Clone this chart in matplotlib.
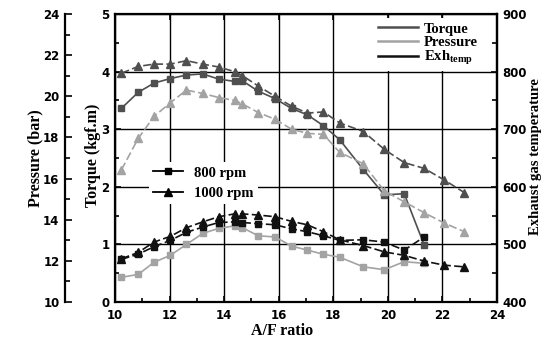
import matplotlib
matplotlib.use("Agg")
import matplotlib.pyplot as plt
from matplotlib.lines import Line2D
from matplotlib.ticker import MultipleLocator

plt.rcParams['mathtext.fontset'] = 'custom'
plt.rcParams['mathtext.rm'] = 'Liberation Serif:bold'
plt.rcParams['mathtext.bf'] = 'Liberation Serif:bold'
plt.rcParams['mathtext.it'] = 'Liberation Serif:bold'

# ---- data ----
af_800 = [10.23, 10.85, 11.43, 12.03, 12.62, 13.21, 13.80, 14.38, 14.67, 15.25,
          15.87, 16.47, 17.05, 17.64, 18.23, 19.10, 19.87, 20.60, 21.33]
af_1000 = [10.23, 10.85, 11.43, 12.03, 12.62, 13.21, 13.80, 14.38, 14.67, 15.25,
           15.87, 16.47, 17.05, 17.64, 18.23, 19.10, 19.87, 20.60, 21.33, 22.06, 22.80]

torque_800 = [3.36, 3.64, 3.80, 3.88, 3.94, 3.96, 3.87, 3.83, 3.84, 3.66,
              3.53, 3.36, 3.25, 3.06, 2.82, 2.30, 1.86, 1.88, 0.99]
torque_1000 = [3.97, 4.09, 4.13, 4.13, 4.19, 4.13, 4.08, 4.00, 3.93, 3.75,
               3.57, 3.40, 3.28, 3.30, 3.11, 2.96, 2.65, 2.42, 2.32, 2.12, 1.90]
pressure_800 = [11.20, 11.34, 11.93, 12.27, 12.80, 13.33, 13.58, 13.70, 13.61, 13.22,
                13.16, 12.72, 12.52, 12.32, 12.18, 11.71, 11.57, 11.96, 11.88]
pressure_1000 = [16.41, 17.95, 19.02, 19.69, 20.30, 20.14, 19.94, 19.80, 19.63, 19.21,
                 18.88, 18.40, 18.20, 18.15, 17.28, 16.72, 15.40, 14.87, 14.34, 13.84, 13.42]
exh_800 = [474, 483, 496, 507, 521, 530, 538, 539, 538, 536,
           534, 527, 522, 515, 507, 508, 504, 490, 513]
exh_1000 = [475, 486, 504, 514, 529, 539, 548, 553, 553, 551,
            548, 540, 534, 522, 508, 498, 487, 481, 471, 464, 461]

series_names = ["Torque", "Pressure", "Exh$_{\\mathrm{temp}}$"]
rpm_names = ["800 rpm", "1000 rpm"]

C_TQ = "#4f4f4f"
C_PR = "#a3a3a3"
C_EX = "#111111"

W, H = 542, 343
fig = plt.figure(figsize=(W / 100, H / 100), dpi=100)
L, R, T, B = 115, 497, 14, 302
ax = fig.add_axes([L / W, 1 - B / H, (R - L) / W, (B - T) / H])
axp = ax.twinx()
axt = ax.twinx()

tickfont = dict(family="DejaVu Sans", weight="bold", size=8.5)
labfont = dict(family="Liberation Serif", weight="bold", size=11.5)

# main (torque) axis
ax.set_xlim(10, 24)
ax.set_ylim(0, 5)
ax.xaxis.set_major_locator(MultipleLocator(2))
ax.xaxis.set_minor_locator(MultipleLocator(1))
ax.yaxis.set_major_locator(MultipleLocator(1))
ax.yaxis.set_minor_locator(MultipleLocator(0.5))
ax.grid(True, which="major", color="black", linewidth=1.0)
ax.tick_params(which="both", direction="in", top=True, right=False, width=1.2)
ax.tick_params(which="major", length=4)
ax.tick_params(which="minor", length=3, top=False)
ax.tick_params(axis="x", pad=5)
ax.tick_params(axis="y", pad=4)
for s in ax.spines.values():
    s.set_linewidth(1.6)
for lab in ax.get_xticklabels() + ax.get_yticklabels():
    lab.set_fontproperties(matplotlib.font_manager.FontProperties(**tickfont))

# pressure axis (outer left), spine 50 px left of the plot
axp.set_ylim(10, 24)
axp.yaxis.set_major_locator(MultipleLocator(2))
axp.yaxis.set_minor_locator(MultipleLocator(1))
axp.yaxis.set_ticks_position("left")
axp.yaxis.set_label_position("left")
axp.spines["left"].set_position(("outward", 50 * 72 / 100))
axp.spines["left"].set_visible(True)
axp.spines["left"].set_linewidth(1.6)
for k in ("right", "top", "bottom"):
    axp.spines[k].set_visible(False)
axp.tick_params(which="both", direction="in", width=1.2, pad=4)
axp.tick_params(which="major", length=5)
axp.tick_params(which="minor", length=3.5)
for lab in axp.get_yticklabels():
    lab.set_fontproperties(matplotlib.font_manager.FontProperties(**tickfont))

# temperature axis (right)
axt.set_ylim(400, 900)
axt.yaxis.set_major_locator(MultipleLocator(100))
axt.yaxis.set_minor_locator(MultipleLocator(50))
axt.spines["right"].set_linewidth(1.6)
for k in ("left", "top", "bottom"):
    axt.spines[k].set_visible(False)
axt.tick_params(which="both", direction="in", width=1.2, pad=4)
axt.tick_params(which="major", length=4)
axt.tick_params(which="minor", length=3.5)
for lab in axt.get_yticklabels():
    lab.set_fontproperties(matplotlib.font_manager.FontProperties(**tickfont))

lw = 1.2
dash = (5, 2)
ms_sq = 4.8
ms_tr = 5.6

ax.plot(af_800, torque_800, color=C_TQ, lw=lw, marker="s", ms=ms_sq, zorder=3)
ax.plot(af_1000, torque_1000, color=C_TQ, lw=lw, marker="^", ms=ms_tr, dashes=dash, zorder=3)
axp.plot(af_800, pressure_800, color=C_PR, lw=lw, marker="s", ms=ms_sq, zorder=3)
axp.plot(af_1000, pressure_1000, color=C_PR, lw=lw, marker="^", ms=ms_tr, dashes=dash, zorder=3)
axt.plot(af_800, exh_800, color=C_EX, lw=lw, marker="s", ms=ms_sq, dashes=dash, zorder=3)
axt.plot(af_1000, exh_1000, color=C_EX, lw=lw, marker="^", ms=ms_tr, dashes=dash, zorder=3)

legfont = dict(family="Liberation Serif", weight="bold", size=10.5)

h1 = [Line2D([], [], color=c, lw=1.8) for c in (C_TQ, C_PR, C_EX)]
leg1 = axt.legend(h1, series_names, loc="upper right", bbox_to_anchor=((R - 15) / W, 1 - 18 / H),
                  bbox_transform=fig.transFigure, prop=legfont, frameon=True,
                  facecolor="white", edgecolor="none", framealpha=1, fancybox=False,
                  handlelength=2.7, handletextpad=0.4, labelspacing=0.0,
                  borderpad=0.3, borderaxespad=0)
axt.add_artist(leg1)

h2 = [Line2D([], [], color="black", lw=1.3, marker="s", ms=ms_sq),
      Line2D([], [], color="black", lw=1.3, marker="^", ms=ms_tr)]
leg2 = axt.legend(h2, rpm_names, loc="upper left", bbox_to_anchor=(149 / W, 1 - 162 / H),
                  bbox_transform=fig.transFigure, prop=legfont, frameon=True,
                  facecolor="white", edgecolor="none", framealpha=1, fancybox=False,
                  handlelength=2.0, handletextpad=0.8, labelspacing=0.5,
                  borderpad=0.3, borderaxespad=0)

fig.text(35 / W, 1 - 158 / H, "Pressure (bar)", rotation=90, ha="center", va="center", **labfont)
fig.text(93 / W, 1 - 155 / H, "Torque (kgf.m)", rotation=90, ha="center", va="center", **labfont)
fig.text(535 / W, 1 - 157 / H, "Exhaust gas temperature", rotation=90, ha="center", va="center",
         family="Liberation Serif", weight="bold", size=10.5)
fig.text(282 / W, 1 - 331 / H, "A/F ratio", ha="center", va="center", **labfont)

fig.savefig("out.png", dpi=100)
